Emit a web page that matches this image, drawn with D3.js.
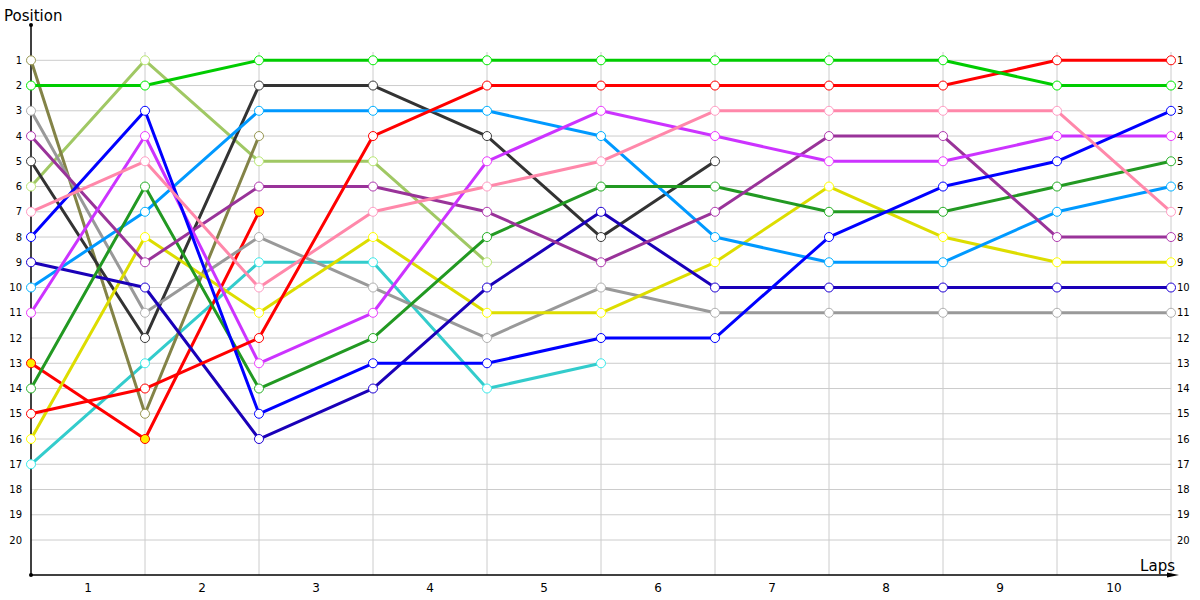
<!DOCTYPE html>
<html>
<head>
<meta charset="utf-8">
<script src="https://cdn.jsdelivr.net/npm/d3@7"></script>
<style>
  body { margin: 0; background: #fff; }
  text { font-family: "DejaVu Sans", Verdana, sans-serif; }
</style>
</head>
<body>
<svg id="chart" width="1200" height="600"></svg>
<script>
// laps 0..10, position of each car at the end of each lap
const laps = [0, 1, 2, 3, 4, 5, 6, 7, 8, 9, 10];
const lapLabels = ["1", "2", "3", "4", "5", "6", "7", "8", "9", "10"];
const positions = d3.range(1, 21);

const olive = [1, 15, 4];
const green = [2, 2, 1, 1, 1, 1, 1, 1, 1, 2, 2];
const gray = [3, 11, 8, 10, 12, 10, 11, 11, 11, 11, 11];
const purple = [4, 9, 6, 6, 7, 9, 7, 4, 4, 8, 8];
const darkGray = [5, 12, 2, 2, 4, 8, 5];
const lightGreen = [6, 1, 5, 5, 9];
const pink = [7, 5, 10, 7, 6, 5, 3, 3, 3, 3, 7];
const blue = [8, 3, 15, 13, 13, 12, 12, 8, 6, 5, 3];
const navy = [9, 10, 16, 14, 10, 7, 10, 10, 10, 10, 10];
const skyBlue = [10, 7, 3, 3, 3, 4, 8, 9, 9, 7, 6];
const violet = [11, 4, 13, 11, 5, 3, 4, 5, 5, 4, 4];
const redRetired = [13, 16, 7];
const darkGreen = [14, 6, 14, 12, 8, 6, 6, 7, 7, 6, 5];
const red = [15, 14, 12, 4, 2, 2, 2, 2, 2, 1, 1];
const yellow = [16, 8, 11, 8, 11, 11, 9, 6, 8, 9, 9];
const cyan = [17, 13, 9, 9, 14, 13];

const series = [
  { name: "cyan", values: cyan, color: "#33cccc", fill: "#fff" },
  { name: "lightGreen", values: lightGreen, color: "#a0c864", fill: "#fff" },
  { name: "olive", values: olive, color: "#838347", fill: "#fff" },
  { name: "redRetired", values: redRetired, color: "#ff0000", fill: "#ffee00" },
  { name: "darkGray", values: darkGray, color: "#333333", fill: "#fff" },
  { name: "gray", values: gray, color: "#999999", fill: "#fff" },
  { name: "yellow", values: yellow, color: "#dddd00", fill: "#fff" },
  { name: "navy", values: navy, color: "#1a00b8", fill: "#fff" },
  { name: "skyBlue", values: skyBlue, color: "#0099ff", fill: "#fff" },
  { name: "darkGreen", values: darkGreen, color: "#229922", fill: "#fff" },
  { name: "purple", values: purple, color: "#993399", fill: "#fff" },
  { name: "violet", values: violet, color: "#cc33ff", fill: "#fff" },
  { name: "blue", values: blue, color: "#0000ff", fill: "#fff" },
  { name: "pink", values: pink, color: "#ff88aa", fill: "#fff" },
  { name: "red", values: red, color: "#ff0000", fill: "#fff" },
  { name: "green", values: green, color: "#00cc00", fill: "#fff" }
];

const svg = d3.select("#chart");
const left = 31, right = 1171, bottom = 575;

const x = d3.scaleLinear().domain([0, 10]).range([left, right]);
const y = d3.scaleLinear().domain([1, 20]).range([60.3, 540]);

// grid
svg.append("g")
  .selectAll("line")
  .data(positions)
  .join("line")
  .attr("x1", left).attr("x2", right)
  .attr("y1", (d) => y(d)).attr("y2", (d) => y(d))
  .attr("stroke", "#cccccc");

svg.append("g")
  .selectAll("line")
  .data(laps.slice(1))
  .join("line")
  .attr("x1", (d) => x(d)).attr("x2", (d) => x(d))
  .attr("y1", 52).attr("y2", bottom)
  .attr("stroke", "#cccccc");

// left / right position labels
const yAxisLeft = d3.axisLeft(y).tickValues(positions).tickSize(0).tickPadding(9);
svg.append("g")
  .attr("transform", `translate(${left},0)`)
  .call(yAxisLeft)
  .call((g) => g.select(".domain").remove())
  .call((g) => g.selectAll("text").attr("font-size", 10).attr("fill", "#000")
    .attr("font-family", "DejaVu Sans"));

const yAxisRight = d3.axisRight(y).tickValues(positions).tickSize(0).tickPadding(6);
svg.append("g")
  .attr("transform", `translate(${right},0)`)
  .call(yAxisRight)
  .call((g) => g.select(".domain").remove())
  .call((g) => g.selectAll("text").attr("font-size", 10).attr("fill", "#000")
    .attr("font-family", "DejaVu Sans"));

// bottom lap labels between grid lines
const xBand = d3.scaleBand().domain(lapLabels).range([left, right]);
svg.append("g")
  .attr("transform", `translate(0,${bottom})`)
  .call(d3.axisBottom(xBand).tickSize(0).tickPadding(8))
  .call((g) => g.select(".domain").remove())
  .call((g) => g.selectAll("text").attr("font-size", 12).attr("fill", "#000")
    .attr("font-family", "DejaVu Sans"));

// axis lines
svg.append("line")
  .attr("x1", left).attr("x2", left).attr("y1", 25).attr("y2", bottom)
  .attr("stroke", "#000").attr("stroke-width", 1.5);
svg.append("line")
  .attr("x1", left).attr("x2", 1170).attr("y1", bottom).attr("y2", bottom)
  .attr("stroke", "#000").attr("stroke-width", 1.5);
svg.append("path")
  .attr("d", `M1167,${bottom - 2.5} L1179,${bottom} L1167,${bottom + 2.5} Z`)
  .attr("fill", "#000");
svg.append("circle").attr("cx", left).attr("cy", 25).attr("r", 2).attr("fill", "#000");
svg.append("circle").attr("cx", left).attr("cy", bottom).attr("r", 2).attr("fill", "#000");

svg.append("text")
  .attr("x", 4).attr("y", 21)
  .attr("font-size", 15)
  .text("Position");
svg.append("text")
  .attr("x", 1175).attr("y", 571)
  .attr("text-anchor", "end")
  .attr("font-size", 15)
  .text("Laps");

// lines
const line = d3.line()
  .x((d, i) => x(laps[i]))
  .y((d) => y(d));

const groups = svg.append("g")
  .selectAll("g")
  .data(series)
  .join("g");

groups.append("path")
  .attr("d", (d) => line(d.values))
  .attr("fill", "none")
  .attr("stroke", (d) => d.color)
  .attr("stroke-width", 3)
  .attr("stroke-linejoin", "round");

groups.selectAll("circle")
  .data((d) => d.values.map((v, i) => ({ lap: laps[i], pos: v, color: d.color, fill: d.fill })))
  .join("circle")
  .attr("cx", (d) => x(d.lap))
  .attr("cy", (d) => y(d.pos))
  .attr("r", 4.5)
  .attr("fill", (d) => d.fill)
  .attr("stroke", (d) => d3.color(d.color).brighter(0.4))
  .attr("stroke-width", 1);
</script>
</body>
</html>
